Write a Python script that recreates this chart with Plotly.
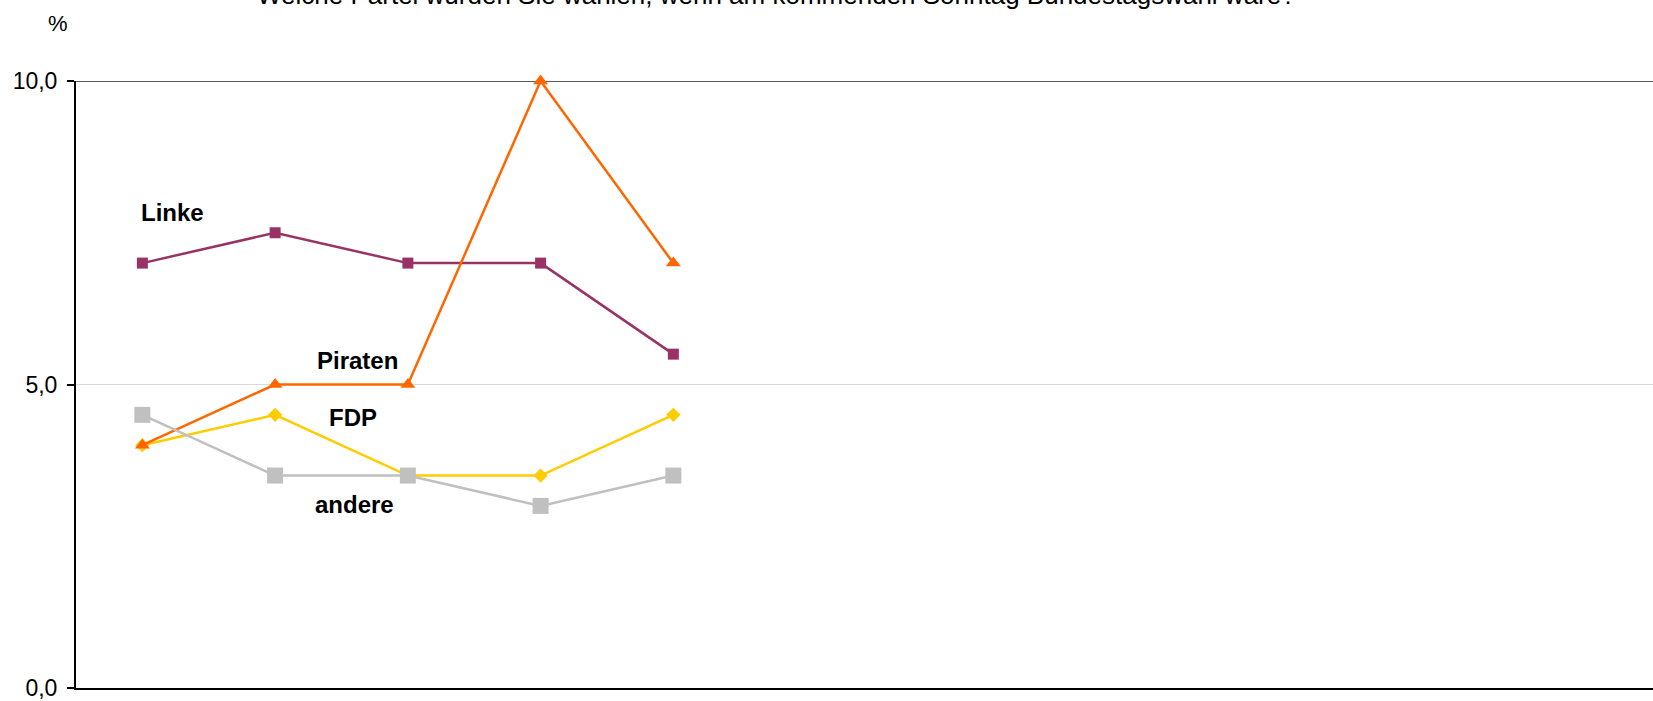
import plotly.graph_objects as go

# ---- data ----
survey_index = [1, 2, 3, 4, 5]
linke = [7.0, 7.5, 7.0, 7.0, 5.5]
fdp = [4.0, 4.5, 3.5, 3.5, 4.5]
piraten = [4.0, 5.0, 5.0, 10.0, 7.0]
andere = [4.5, 3.5, 3.5, 3.0, 3.5]

y_tick_vals = [0, 5, 10]
y_tick_text = ["0,0", "5,0", "10,0"]

title_text = "Welche Partei würden Sie wählen, wenn am kommenden Sonntag Bundestagswahl wäre?"

FONT = "Liberation Sans, Arial, sans-serif"

fig = go.Figure()

series = [
    ("Linke", linke, "#993366", "square", 11, 2.5),
    ("FDP", fdp, "#FFCC00", "diamond", 11, 2.5),
    ("Piraten", piraten, "#FF6600", "triangle-up", 13, 2.5),
    ("andere", andere, "#C0C0C0", "square", 16, 2.5),
]
for name, vals, color, symbol, msize, lw in series:
    fig.add_trace(go.Scatter(
        x=survey_index, y=vals, name=name, mode="lines+markers",
        line=dict(color=color, width=lw),
        marker=dict(color=color, symbol=symbol, size=msize, line=dict(width=0)),
        cliponaxis=False,
    ))

# series labels
labels = [
    ("Linke", 1.23, 7.83),
    ("Piraten", 2.62, 5.39),
    ("FDP", 2.59, 4.45),
    ("andere", 2.60, 3.02),
]
for txt, lx, ly in labels:
    fig.add_annotation(x=lx, y=ly, xref="x", yref="y", text=f"<b>{txt}</b>",
                       showarrow=False, font=dict(family=FONT, size=24, color="#000000"),
                       xanchor="center", yanchor="middle")

# title (partially cut at top, as in the reference)
fig.add_annotation(x=0.4445, y=1.1133, xref="paper", yref="paper", text=title_text,
                   showarrow=False, font=dict(family=FONT, size=26, color="#000000"),
                   xanchor="center", yanchor="bottom")
# unit label
fig.add_annotation(x=-0.0114, y=1.095, xref="paper", yref="paper", text="%",
                   showarrow=False, font=dict(family=FONT, size=22, color="#000000"),
                   xanchor="center", yanchor="middle")

# top border line at 10
fig.add_shape(type="line", xref="paper", yref="y", x0=0, x1=1, y0=10, y1=10,
              line=dict(color="#595959", width=2), layer="below")

fig.update_layout(
    width=1653, height=701,
    margin=dict(l=76, r=0, t=81, b=11),
    paper_bgcolor="white", plot_bgcolor="white",
    showlegend=False,
    font=dict(family=FONT, color="#000000"),
)
fig.update_xaxes(range=[0.5, 12.38], showticklabels=False, ticks="", showgrid=False,
                 zeroline=False, showline=True, linecolor="#000000", linewidth=2)
fig.update_yaxes(range=[0, 10], tickvals=y_tick_vals, ticktext=y_tick_text,
                 ticks="outside", ticklen=7, tickwidth=1.5, tickcolor="#000000",
                 ticklabelstandoff=5, ticklabeloverflow="allow",
                 tickfont=dict(family=FONT, size=23, color="#000000"),
                 showgrid=True, gridcolor="#D9D9D9", gridwidth=1,
                 zeroline=False, showline=True, linecolor="#000000", linewidth=2)

# remove the default 8px page margin so the figure fills the window exactly
fig.write_html("out.html",
               config={"displayModeBar": False},
               post_script="document.body.style.margin='0px';document.body.style.overflow='hidden';")
